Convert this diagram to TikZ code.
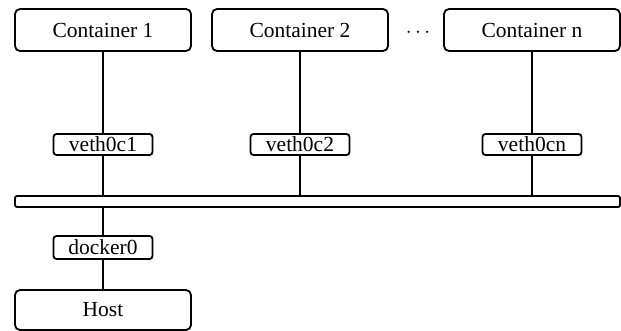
\documentclass[tikz,border=0pt]{standalone}
\usepackage{fontspec}
\setmainfont{Liberation Serif}
\begin{document}
\begin{tikzpicture}[x=1pt,y=-1pt,
  every node/.style={font=\fontsize{21.5}{24}\selectfont, inner sep=0pt},
  bigbox/.style={draw, line width=1.8pt, rounded corners=5pt, minimum width=176pt, minimum height=42pt},
  smallbox/.style={draw, line width=1.8pt, rounded corners=3pt, minimum width=99pt, minimum height=21pt},
  link/.style={line width=1.8pt}]
\useasboundingbox (0,0) rectangle (621,331);
\node[bigbox] (c1) at (103,30) {Container 1};
\node[bigbox] (c2) at (300,30) {Container 2};
\node[bigbox] (cn) at (532,30) {Container n};
\node (dots) at (418,33) {$\cdots$};
\node[smallbox] (v1) at (103,144.5) {veth0c1};
\node[smallbox] (v2) at (300,144.5) {veth0c2};
\node[smallbox] (vn) at (532,144.5) {veth0cn};
\node[draw, line width=1.8pt, rounded corners=2pt, minimum width=605pt, minimum height=11pt] (bus) at (317.5,201.5) {};
\node[smallbox, minimum height=23pt] (d0) at (103,247.5) {docker0};
\node[bigbox, minimum height=40pt] (host) at (103,310) {Host};
\draw[link] (c1) -- (v1);
\draw[link] (c2) -- (v2);
\draw[link] (cn) -- (vn);
\draw[link] (v1) -- (v1 |- bus.north);
\draw[link] (v2) -- (v2 |- bus.north);
\draw[link] (vn) -- (vn |- bus.north);
\draw[link] (d0 |- bus.south) -- (d0);
\draw[link] (d0) -- (host);
\end{tikzpicture}
\end{document}
